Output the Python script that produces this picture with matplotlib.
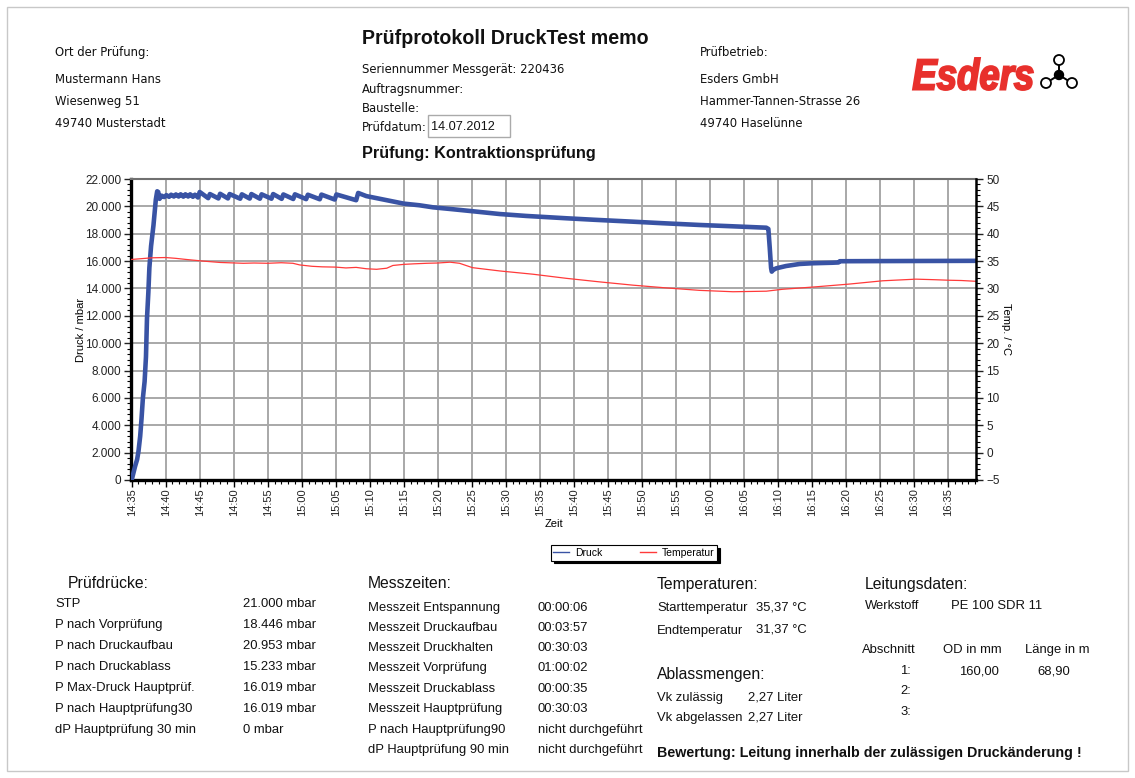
import matplotlib
matplotlib.use("Agg")
import matplotlib.pyplot as plt
from matplotlib.ticker import MultipleLocator, FuncFormatter, FixedLocator
from matplotlib.lines import Line2D
from matplotlib.patches import Rectangle, Circle, PathPatch
from matplotlib.textpath import TextPath
from matplotlib.font_manager import FontProperties
from matplotlib.path import Path

# ---------------- data ----------------
time_tick_labels = ["14:35", "14:40", "14:45", "14:50", "14:55", "15:00", "15:05",
                    "15:10", "15:15", "15:20", "15:25", "15:30", "15:35", "15:40",
                    "15:45", "15:50", "15:55", "16:00", "16:05", "16:10", "16:15",
                    "16:20", "16:25", "16:30", "16:35"]

# minutes since 14:35
druck_min = [0.0, 0.25, 0.5, 0.8, 1.0, 1.25, 1.45, 1.65, 1.9, 2.1, 2.25, 2.45, 2.6, 2.85,
             3.2, 3.55, 3.75, 3.9, 4.1,
             4.4, 4.8, 5.1, 5.5, 5.8, 6.2, 6.5, 6.9, 7.2, 7.6, 7.9, 8.3, 8.6, 9.0, 9.3,
             9.75, 10.0, 11.25, 11.5, 12.75, 13.0, 14.15, 14.4, 15.95, 16.2, 17.35, 17.6,
             18.85, 19.1, 20.55, 20.8, 22.05, 22.3, 23.75, 24.0, 25.65, 25.9, 27.65, 27.9,
             29.85, 30.1, 33.0, 33.3,
             34.5, 36.0, 38.0, 40.0, 42.3, 44.3, 47.0, 50.0, 54.1, 58.0, 63.9, 68.0, 73.7,
             78.0, 83.5, 88.0, 93.3, 93.6, 93.8, 94.0, 94.1, 94.3, 94.75, 96.2, 98.2,
             100.0, 103.0, 103.9, 104.1, 110.0, 124.2]
druck_mbar = [0, 500, 1000, 1500, 2100, 3200, 4500, 6000, 7200, 9000, 11800, 13700, 15500, 17100,
              18600, 20500, 21100, 21050, 20550,
              20780, 20680, 20820, 20700, 20850, 20720, 20870, 20720, 20880, 20710, 20880, 20720, 20880, 20700, 20850,
              20650, 21050, 20600, 20900, 20580, 20920, 20580, 20900, 20560, 20880, 20570, 20900,
              20560, 20880, 20560, 20900, 20550, 20870, 20540, 20880, 20530, 20850, 20520, 20860,
              20500, 20870, 20450, 20980,
              20750, 20600, 20400, 20200, 20080, 19930, 19800, 19650, 19440, 19300, 19130, 19020, 18880,
              18770, 18640, 18550, 18440, 18350, 17000, 15500, 15230, 15350, 15470, 15640, 15790,
              15840, 15880, 15900, 15990, 16000, 16019]

temp_min = [0, 1, 3, 5, 6.5, 8, 10.5, 13, 16.4, 18, 20, 22, 23.7, 24.7, 26.5, 28, 30, 31.5, 33, 34.5,
            36, 37.5, 38.4, 40, 41.5, 43.4, 45, 46.8, 48.2, 50.1, 54.1, 59, 63.9, 68.8, 73.7,
            78.6, 83.5, 88.4, 93.3, 95.7, 100.6, 105.5, 110.4, 115.3, 118, 120.2, 122, 124.2]
temp_c = [35.3, 35.4, 35.6, 35.65, 35.5, 35.3, 35.0, 34.75, 34.6, 34.65, 34.6, 34.7, 34.6, 34.3,
          34.05, 33.95, 33.9, 33.75, 33.85, 33.6, 33.5, 33.7, 34.2, 34.4, 34.5, 34.6, 34.65, 34.8,
          34.6, 33.8, 33.2, 32.6, 31.85, 31.2, 30.6, 30.1, 29.65, 29.4, 29.5, 29.85, 30.3, 30.8,
          31.4, 31.7, 31.6, 31.5, 31.45, 31.3]

druck_ticks = [0, 2000, 4000, 6000, 8000, 10000, 12000, 14000, 16000, 18000, 20000, 22000]
temp_ticks = [-5, 0, 5, 10, 15, 20, 25, 30, 35, 40, 45, 50]

pruefdruecke_labels = ["STP", "P nach Vorprüfung", "P nach Druckaufbau", "P nach Druckablass",
                       "P Max-Druck Hauptprüf.", "P nach Hauptprüfung30", "dP Hauptprüfung 30 min"]
pruefdruecke_values = ["21.000 mbar", "18.446 mbar", "20.953 mbar", "15.233 mbar",
                       "16.019 mbar", "16.019 mbar", "0 mbar"]
messzeiten_labels = ["Messzeit Entspannung", "Messzeit Druckaufbau", "Messzeit Druckhalten",
                     "Messzeit Vorprüfung", "Messzeit Druckablass", "Messzeit Hauptprüfung",
                     "P nach Hauptprüfung90", "dP Hauptprüfung 90 min"]
messzeiten_values = ["00:00:06", "00:03:57", "00:30:03", "01:00:02", "00:00:35", "00:30:03",
                     "nicht durchgeführt", "nicht durchgeführt"]

# ---------------- figure ----------------
W, H = 1135, 778
fig = plt.figure(figsize=(W / 100, H / 100), dpi=100)
fig.patch.set_facecolor("white")

page = fig.add_axes([0, 0, 1, 1], zorder=0)
page.set_xlim(0, W)
page.set_ylim(H, 0)
page.axis("off")

page.add_patch(Rectangle((7, 7), W - 14, H - 14, fill=False, ec="#c8c8c8", lw=1))

HF = "DejaVu Sans"
AF = "Liberation Sans"

def t(x, y, s, size=8.4, fam=HF, weight="normal", ha="left", color="#111111"):
    page.text(x, y, s, fontsize=size, family=fam, fontweight=weight, ha=ha, va="center", color=color)

# header
t(55, 52, "Ort der Prüfung:")
t(55, 79, "Mustermann Hans")
t(55, 101, "Wiesenweg 51")
t(55, 123, "49740 Musterstadt")

t(362, 38, "Prüfprotokoll DruckTest memo", size=14.1, fam=AF, weight="bold")
t(362, 69, "Seriennummer Messgerät: 220436")
t(362, 89, "Auftragsnummer:")
t(362, 108, "Baustelle:")
t(362, 127, "Prüfdatum:")
page.add_patch(Rectangle((428, 115), 82, 22, fill=False, ec="#aaaaaa", lw=1))
t(431, 127, "14.07.2012", size=9.2, fam=AF)
t(362, 153, "Prüfung: Kontraktionsprüfung", size=11.7, fam=AF, weight="bold")

t(700, 52, "Prüfbetrieb:")
t(700, 79, "Esders GmbH")
t(700, 101, "Hammer-Tannen-Strasse 26")
t(700, 123, "49740 Haselünne")

# logo text as stretched path
tp = TextPath((0, 0), "Esders", size=100,
              prop=FontProperties(family=AF, weight="bold", style="italic"))
ext = tp.get_extents()
x0, x1, y0, y1 = 913, 1033, 58, 90
sx = (x1 - x0) / ext.width
sy = (y1 - y0) / ext.height
verts = tp.vertices.copy()
verts[:, 0] = x0 + (verts[:, 0] - ext.x0) * sx
verts[:, 1] = y1 - (verts[:, 1] - ext.y0) * sy
page.add_patch(PathPatch(Path(verts, tp.codes), fc="#e8302c", ec="#e8302c", lw=1.4))

# molecule icon
cx, cy = 1059, 75
for (px, py) in [(1059, 60), (1046, 83), (1072, 83)]:
    page.plot([cx, px], [cy, py], color="black", lw=1.4, zorder=2)
    page.add_patch(Circle((px, py), 5, fc="white", ec="black", lw=1.3, zorder=3))
page.add_patch(Circle((cx, cy), 4.5, fc="black", ec="black", zorder=4))

# ---------------- chart ----------------
L, R, T, B = 131, 976.5, 179, 480
ax = fig.add_axes([L / W, 1 - B / H, (R - L) / W, (B - T) / H], zorder=2)
ax.set_facecolor("white")
ax.set_xlim(-0.1, 124.2)
ax.set_ylim(0, 22000)

def hm_to_min(s):
    h, m = s.split(":")
    return (int(h) * 60 + int(m)) - (14 * 60 + 35)

tick_pos = [hm_to_min(s) for s in time_tick_labels]
ax.xaxis.set_major_locator(FixedLocator(tick_pos))
ax.set_xticklabels(time_tick_labels, rotation=90, fontsize=8, family=AF, color="#222222")
ax.xaxis.set_minor_locator(MultipleLocator(1))
ax.yaxis.set_major_locator(FixedLocator(druck_ticks))
ax.yaxis.set_minor_locator(MultipleLocator(400))
ax.yaxis.set_major_formatter(FuncFormatter(lambda v, p: f"{v:,.0f}".replace(",", ".")))
for lab in ax.get_yticklabels():
    lab.set_family(AF)
ax.tick_params(axis="y", which="major", labelsize=8.5, length=5, width=1, pad=2, colors="#222222")
ax.tick_params(axis="y", which="minor", length=3, width=0.8)
ax.tick_params(axis="x", which="major", length=5, width=1, pad=1)
ax.tick_params(axis="x", which="minor", length=3, width=0.8)

ax.grid(True, which="major", color="#a8a8a8", lw=1.4)
ax.set_axisbelow(True)

ax.spines["left"].set_linewidth(2.4)
ax.spines["bottom"].set_linewidth(2.4)
ax.spines["left"].set_color("black")
ax.spines["bottom"].set_color("black")
ax.spines["top"].set_color("#707070")
ax.spines["top"].set_linewidth(1.5)
ax.spines["right"].set_visible(False)

ax.plot(druck_min, druck_mbar, color="#3953a4", lw=3.3, solid_joinstyle="round",
        solid_capstyle="round", zorder=3)

ax2 = ax.twinx()
ax2.set_ylim(-5, 50)
ax2.yaxis.set_major_locator(FixedLocator(temp_ticks))
ax2.yaxis.set_minor_locator(MultipleLocator(1))
for s in ["left", "top", "bottom"]:
    ax2.spines[s].set_visible(False)
ax2.spines["right"].set_color("black")
ax2.spines["right"].set_linewidth(1.8)
ax2.tick_params(axis="y", which="major", labelsize=8.5, length=5, width=1, pad=2, colors="#222222")
ax2.tick_params(axis="y", which="minor", length=3, width=0.8)
for lab in ax2.get_yticklabels():
    lab.set_family(AF)
ax2.plot(temp_min, temp_c, color="#ff3a3a", lw=0.9, zorder=2)

ax.set_ylabel("Druck / mbar", fontsize=8, family=AF, labelpad=-1)
ax2.set_ylabel("Temp. / °C", fontsize=8, family=AF, rotation=270, va="center")
ax2.yaxis.set_label_coords((1006 - L) / (R - L), 0.5)
ax.set_xlabel("Zeit", fontsize=8, family=AF, labelpad=2)

handles = [Line2D([], [], color="#3953a4", lw=1), Line2D([], [], color="#ff3a3a", lw=1)]
leg = fig.legend(handles, ["Druck", "Temperatur"], loc="center",
                 bbox_to_anchor=(634 / W, 1 - 553 / H), ncol=2,
                 frameon=True, fancybox=False, edgecolor="black", framealpha=1,
                 shadow={"color": "black", "alpha": 1}, handlelength=1.5,
                 columnspacing=3.6, handletextpad=0.6, borderpad=0.25,
                 prop={"family": AF, "size": 7.5})
leg.get_frame().set_linewidth(0.8)

# ---------------- bottom tables ----------------
RS = 9.4
HS = 11.3
t(68, 583, "Prüfdrücke:", size=HS, fam=AF)
ys1 = [604, 625, 646, 667, 688, 709, 730]
for y, lab, val in zip(ys1, pruefdruecke_labels, pruefdruecke_values):
    t(55, y, lab, size=RS, fam=AF)
    t(243, y, val, size=RS, fam=AF)

t(368, 583, "Messzeiten:", size=HS, fam=AF)
ys2 = [608, 628, 648, 668, 689, 709, 730, 750]
for y, lab, val in zip(ys2, messzeiten_labels, messzeiten_values):
    t(368, y, lab, size=RS, fam=AF)
    t(538, y, val, size=RS, fam=AF)

t(657, 585, "Temperaturen:", size=HS, fam=AF)
t(657, 608, "Starttemperatur", size=RS, fam=AF)
t(756, 607, "35,37 °C", size=RS, fam=AF)
t(657, 631, "Endtemperatur", size=RS, fam=AF)
t(756, 629, "31,37 °C", size=RS, fam=AF)

t(657, 675, "Ablassmengen:", size=HS, fam=AF)
t(657, 698, "Vk zulässig", size=RS, fam=AF)
t(748, 698, "2,27 Liter", size=RS, fam=AF)
t(657, 718, "Vk abgelassen", size=RS, fam=AF)
t(748, 718, "2,27 Liter", size=RS, fam=AF)

t(865, 585, "Leitungsdaten:", size=HS, fam=AF)
t(865, 606, "Werkstoff", size=RS, fam=AF)
t(951, 606, "PE 100 SDR 11", size=RS, fam=AF)
t(862, 650, "Abschnitt", size=RS, fam=AF)
t(943, 650, "OD in mm", size=RS, fam=AF)
t(1025, 650, "Länge in m", size=RS, fam=AF)
t(911, 671, "1:", size=RS, fam=AF, ha="right")
t(999, 671, "160,00", size=RS, fam=AF, ha="right")
t(1070, 671, "68,90", size=RS, fam=AF, ha="right")
t(911, 691, "2:", size=RS, fam=AF, ha="right")
t(911, 712, "3:", size=RS, fam=AF, ha="right")

t(657, 753, "Bewertung: Leitung innerhalb der zulässigen Druckänderung !", size=10.3, fam=AF, weight="bold")

fig.savefig("out.png", dpi=100, facecolor="white")
